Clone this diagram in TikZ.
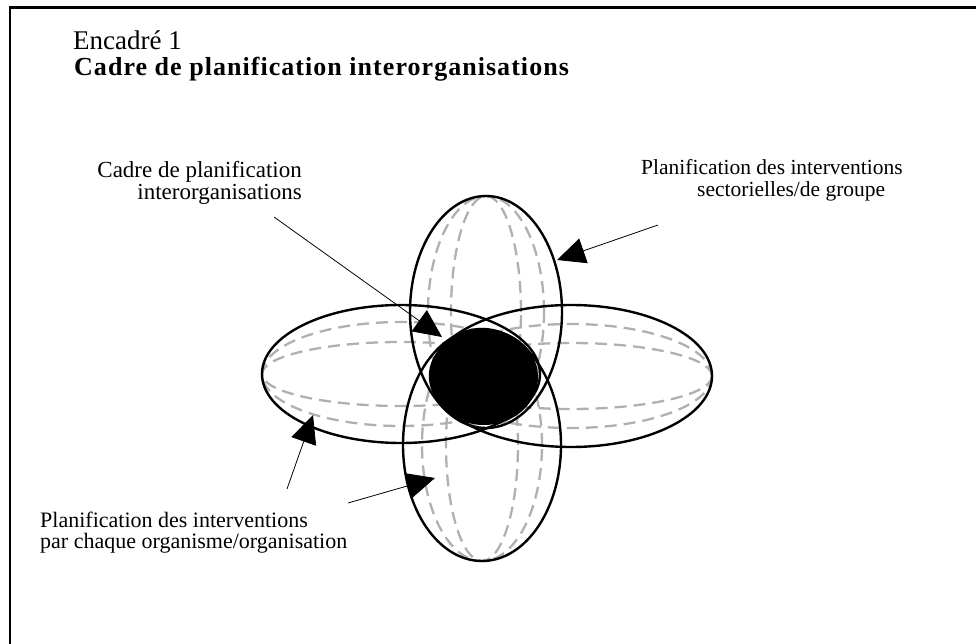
\documentclass[tikz,border=0pt]{standalone}
\usepackage{fontspec}
\setmainfont{Liberation Serif}
\newfontfamily\spacedfont[LetterSpace=4]{Liberation Serif}
\usetikzlibrary{arrows.meta}
\definecolor{dashgray}{HTML}{B0B0B0}
\begin{document}
\begin{tikzpicture}[x=1pt,y=-1pt,
  solidell/.style={line width=2.4pt},
  dashell/.style={line width=2.3pt, draw=dashgray, dash pattern=on 12pt off 7pt},
  lbl/.style={font=\fontsize{23}{26}\selectfont, inner sep=0pt},
  lblsmall/.style={font=\fontsize{22}{25}\selectfont, inner sep=0pt},
  pointer/.style={line width=0.8pt, -{Triangle[length=28pt,width=26pt]}},
]
\useasboundingbox (0,0) rectangle (976,644);
% frame
\draw[line width=2.2pt] (10,644) -- (10,7.5) -- (976,7.5);

% titles
\node[anchor=base west, inner sep=0pt, font=\fontsize{27}{30}\selectfont] (enc) at (73,50) {Encadré 1};
\node[anchor=base west, inner sep=0pt, font=\spacedfont\bfseries\fontsize{26}{29}\selectfont] (title) at (74,76) {Cadre de planification interorganisations};

% labels
\node[lbl, anchor=base east] (tl1) at (302,178) {Cadre de planification};
\node[lbl, anchor=base east] (tl2) at (302,200) {interorganisations};
\node[lblsmall, font=\fontsize{21.5}{25}\selectfont, anchor=base west] (tr1) at (641,175) {Planification des interventions};
\node[lblsmall, font=\fontsize{21.5}{25}\selectfont, anchor=base west] (tr2) at (697,197) {sectorielles/de groupe};
\node[lblsmall, anchor=base west] (bl1) at (40,527) {Planification des interventions};
\node[lblsmall, anchor=base west] (bl2) at (40,548) {par chaque organisme/organisation};

% dashed meridians
\draw[dashell] (401,374) ellipse [x radius=139pt, y radius=52pt];
\draw[dashell] (401,374) ellipse [x radius=139pt, y radius=32pt];
\draw[dashell] (571,376) ellipse [x radius=141pt, y radius=52pt];
\draw[dashell] (571,376) ellipse [x radius=141pt, y radius=33pt];
\draw[dashell] (486,312) ellipse [x radius=58pt, y radius=116pt];
\draw[dashell] (486,312) ellipse [x radius=35pt, y radius=116pt];
\draw[dashell] (482,445) ellipse [x radius=60pt, y radius=116pt];
\draw[dashell] (482,445) ellipse [x radius=36pt, y radius=116pt];

% solid outlines
\draw[solidell] (401,374) ellipse [x radius=139pt, y radius=69pt];
\draw[solidell] (571,376) ellipse [x radius=141pt, y radius=71pt];
\draw[solidell] (486,312) ellipse [x radius=76pt, y radius=116pt];
\draw[solidell] (482,445) ellipse [x radius=79pt, y radius=116pt];

% central black core
\fill (484,377) ellipse [x radius=54pt, y radius=48pt];

% pointers
\coordinate (aStart) at (274,217);
\coordinate (aTip) at (442,337);
\coordinate (bStart) at (658,225);
\coordinate (bTip) at (557,260);
\coordinate (cStart) at (287,489);
\coordinate (cTip) at (313,415);
\coordinate (dStart) at (348,503);
\coordinate (dTip) at (435,478);
\draw[pointer] (aStart) -- (aTip);
\draw[pointer] (bStart) -- (bTip);
\draw[pointer] (cStart) -- (cTip);
\draw[pointer] (dStart) -- (dTip);
\end{tikzpicture}
\end{document}
